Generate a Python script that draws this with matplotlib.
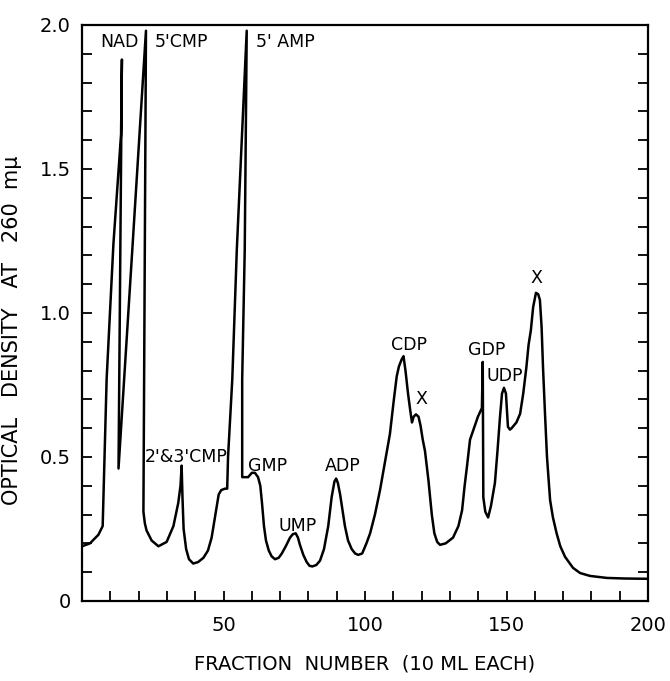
import numpy as np
import matplotlib
matplotlib.use("Agg")
import matplotlib.pyplot as plt
from matplotlib.ticker import MultipleLocator

# elution profile (fraction number, OD at 260 mu)
fraction = [0, 2.8, 5.8, 7.3, 8.7, 11.1, 13.8, 14.1, 12.9, 14.9, 17.9, 22.6,
            21.7, 22.2, 22.8, 24.6, 27.0, 29.9, 32.3, 34.0, 34.8, 35.2, 35.5,
            35.9, 36.8, 37.8, 39.3, 41.0, 42.9, 44.5, 45.8, 46.8, 47.6, 48.3,
            49.2, 50.5, 51.3, 51.6, 53.1, 54.7, 58.2,
            57.5, 56.6, 56.6, 58.7, 60.0, 61.1, 62.2, 63.0, 63.6, 64.3, 65.0,
            66.0, 67.0, 68.2, 69.5, 70.6, 72.0, 73.5, 74.5, 75.5, 76.3, 77.0,
            78.2, 79.4, 80.4, 81.4, 82.8, 84.1, 85.5, 87.0, 88.2, 89.2, 89.8,
            90.4, 91.2, 92.9, 94.0, 95.3, 96.5, 97.6, 99.0, 100.5, 101.8,
            103.5, 105.3, 107.0, 108.8, 110.2, 111.2, 112.0, 113.0, 113.6,
            114.3, 115.2, 116.0, 116.6, 117.2, 118.0, 118.9, 119.6, 120.4,
            121.2, 122.4, 123.6, 124.5, 125.5, 126.5, 128.5, 131.1, 133.0,
            134.3, 135.2, 136.0, 137.1, 138.5, 139.9, 141.3, 141.6, 141.8,
            142.5, 143.5, 144.5, 145.9, 146.8, 147.7, 148.4, 149.1, 149.8,
            150.5, 151.2, 151.8, 153.5, 154.8, 155.9, 157.0, 157.8, 158.6,
            159.4, 160.4, 161.2, 161.8, 162.4, 162.9, 163.6, 164.3, 165.4,
            166.4, 167.7, 169.0, 170.7, 173.5, 176.0, 179.5, 185.5, 192.0, 200]
od = [0.19, 0.20, 0.23, 0.26, 0.77, 1.24, 1.62, 1.88, 0.46, 0.77, 1.24, 1.98,
      0.31, 0.27, 0.245, 0.21, 0.19, 0.205, 0.26, 0.34, 0.40, 0.47, 0.36,
      0.25, 0.18, 0.145, 0.13, 0.135, 0.15, 0.175, 0.22, 0.28, 0.33, 0.37,
      0.385, 0.39, 0.39, 0.50, 0.77, 1.22, 1.98,
      1.22, 0.77, 0.43, 0.43, 0.445, 0.445, 0.43, 0.40, 0.34, 0.26, 0.21,
      0.175, 0.155, 0.145, 0.15, 0.165, 0.19, 0.22, 0.232, 0.235, 0.22, 0.195,
      0.16, 0.135, 0.122, 0.12, 0.125, 0.14, 0.18, 0.26, 0.36, 0.415, 0.425,
      0.41, 0.37, 0.26, 0.21, 0.18, 0.165, 0.16, 0.165, 0.20, 0.235,
      0.30, 0.385, 0.48, 0.58, 0.70, 0.78, 0.815, 0.84, 0.85,
      0.80, 0.72, 0.66, 0.62, 0.64, 0.648, 0.64, 0.61, 0.56,
      0.52, 0.42, 0.30, 0.235, 0.205, 0.195, 0.20, 0.22, 0.26,
      0.315, 0.40, 0.465, 0.56, 0.60, 0.64, 0.67, 0.83, 0.36,
      0.31, 0.29, 0.33, 0.41, 0.52, 0.64, 0.72, 0.74, 0.72,
      0.605, 0.595, 0.60, 0.62, 0.65, 0.72, 0.81, 0.89, 0.94,
      1.02, 1.07, 1.065, 1.045, 0.95, 0.81, 0.65, 0.50, 0.35,
      0.29, 0.235, 0.19, 0.153, 0.115, 0.097, 0.087, 0.08, 0.078, 0.077]

peak_names = ["NAD", "5'CMP", "5' AMP", "2'&3'CMP", "GMP", "UMP", "ADP",
              "CDP", "X", "GDP", "UDP", "X"]
peak_x = [13.4, 35.3, 71.7, 36.7, 65.7, 76.3, 92.3, 115.5, 119.8, 143.0, 149.5, 160.4]
peak_y = [1.94, 1.94, 1.94, 0.50, 0.47, 0.26, 0.47, 0.89, 0.70, 0.87, 0.78, 1.12]

xticks = [50, 100, 150, 200]
yticks = [0, 0.5, 1.0, 1.5, 2.0]
ytick_labels = ["0", "0.5", "1.0", "1.5", "2.0"]

plt.rcParams['font.family'] = ['DejaVu Sans']

fig = plt.figure(figsize=(6.70, 6.81), dpi=100)
ax = fig.add_axes([0.1224, 0.1175, 0.8448, 0.8458])

ax.plot(fraction, od, color='black', lw=1.8, solid_joinstyle='round')

for name, x, y in zip(peak_names, peak_x, peak_y):
    ax.text(x, y, name, ha='center', va='center', fontsize=12.5)

ax.set_xlim(0, 200)
ax.set_ylim(0, 2.0)
ax.set_xticks(xticks)
ax.set_yticks(yticks)
ax.set_yticklabels(ytick_labels)
ax.xaxis.set_minor_locator(MultipleLocator(10))
ax.yaxis.set_minor_locator(MultipleLocator(0.1))
ax.tick_params(which='both', direction='in', length=7, width=1.3,
               top=False, right=True, labelsize=14, pad=8)
ax.tick_params(axis='x', pad=11)

for sp in ax.spines.values():
    sp.set_linewidth(1.6)

ax.set_xlabel("FRACTION  NUMBER  (10 ML EACH)", fontsize=14, labelpad=14)
ax.set_ylabel("OPTICAL   DENSITY   AT   260  m\u03bc", fontsize=15)
ax.yaxis.set_label_coords(-0.106, 0.47)

fig.savefig("out.png", dpi=100)
